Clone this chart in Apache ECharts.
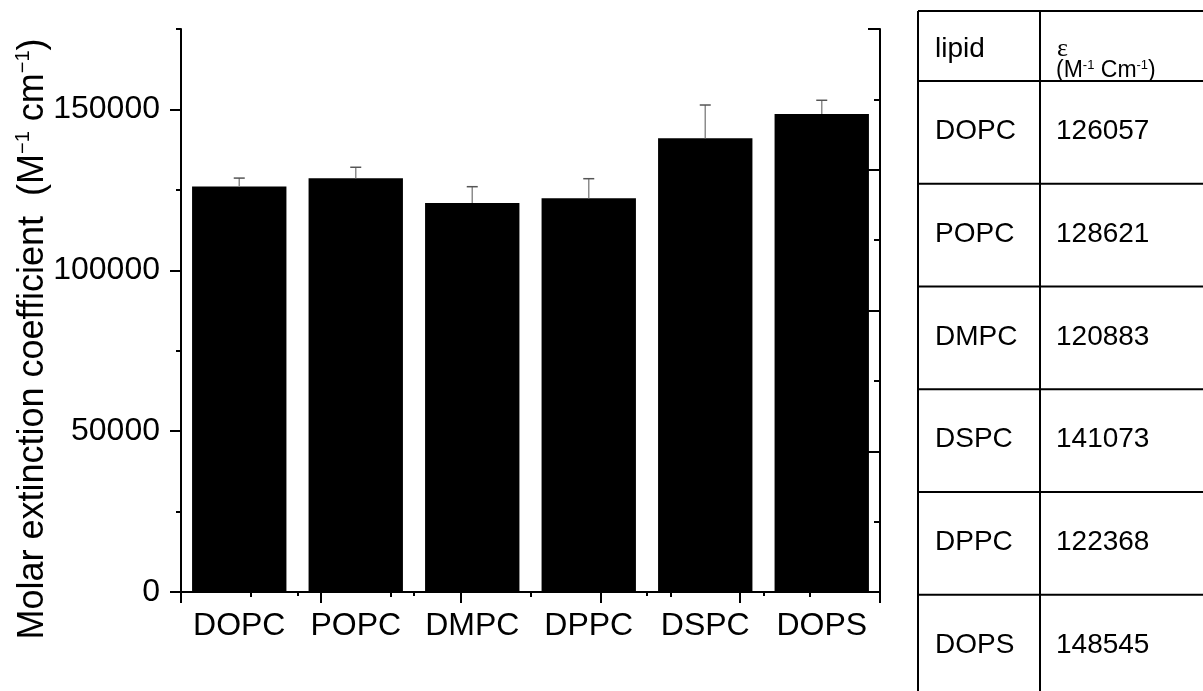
<!DOCTYPE html>
<html>
<head>
<meta charset="utf-8">
<script src="https://cdn.jsdelivr.net/npm/echarts@6/dist/echarts.min.js"></script>
<style>
  html, body { margin: 0; padding: 0; background: #fff; }
  #chart { width: 1203px; height: 691px; }
</style>
</head>
<body>
<div id="chart"></div>
<script>
// data
const lipids = ['DOPC', 'POPC', 'DMPC', 'DPPC', 'DSPC', 'DOPS']
const epsilon = [126057, 128621, 120883, 122368, 141073, 148545]
const epsilonErr = [2600, 3400, 5100, 6100, 10300, 4300]

// table on the right (its own row order)
const tableLipids = ['DOPC', 'POPC', 'DMPC', 'DSPC', 'DPPC', 'DOPS']
const tableValues = [126057, 128621, 120883, 141073, 122368, 148545]

const yMajorTicks = [0, 50000, 100000, 150000]
const yMinorTicks = [25000, 75000, 125000, 175000]

const FONT = '"Liberation Sans", Arial, sans-serif'

const chart = echarts.init(document.getElementById('chart'))

// table drawn with graphic elements
function buildTable() {
  const left = 918, mid = 1040, right = 1203
  const top = 11, headBottom = 81, rowH = 102.75
  const els = []
  const line = (x1, y1, x2, y2) => ({
    type: 'line',
    shape: { x1, y1, x2, y2 },
    style: { stroke: '#000', lineWidth: 2 }
  })
  els.push(line(left, top, left, 691))
  els.push(line(mid, top, mid, 691))
  els.push(line(left, top, right, top))
  els.push(line(left, headBottom, right, headBottom))
  tableLipids.forEach((name, i) => {
    const y0 = headBottom + i * rowH
    els.push(line(left, y0 + rowH, right, y0 + rowH))
    els.push({
      type: 'text', x: 935, y: y0 + rowH / 2 - 1,
      style: { text: name, fontSize: 28, fontFamily: FONT, fill: '#000', verticalAlign: 'middle' }
    })
    els.push({
      type: 'text', x: 1056, y: y0 + rowH / 2 - 1,
      style: { text: String(tableValues[i]), fontSize: 28, fontFamily: FONT, fill: '#000', verticalAlign: 'middle' }
    })
  })
  // header
  els.push({
    type: 'text', x: 935, y: 49,
    style: { text: 'lipid', fontSize: 28, fontFamily: FONT, fill: '#000', verticalAlign: 'middle' }
  })
  els.push({
    type: 'text', x: 1057, y: 49,
    style: { text: 'ε', fontSize: 26, fontFamily: '"Liberation Serif", serif', fill: '#000', verticalAlign: 'middle' }
  })
  els.push({
    type: 'text', x: 1056, y: 71,
    style: {
      text: '{a|(M}{s|-1}{a| Cm}{s|-1}{a|)}',
      verticalAlign: 'middle',
      rich: {
        a: { fontSize: 23, fontFamily: FONT, fill: '#000', lineHeight: 24 },
        s: { fontSize: 13, fontFamily: FONT, fill: '#000', verticalAlign: 'top', lineHeight: 13 }
      }
    }
  })
  return els
}

const yTitle = {
  type: 'text',
  x: 33, y: 339,
  rotation: Math.PI / 2,
  style: {
    text: '{a|Molar extinction coefficient  (M}{s|−1}{a| cm}{s|−1}{a|)}',
    align: 'center',
    verticalAlign: 'middle',
    rich: {
      a: { fontSize: 36, fontFamily: FONT, fill: '#000', lineHeight: 40 },
      s: { fontSize: 20, fontFamily: FONT, fill: '#000', verticalAlign: 'top', lineHeight: 20 }
    }
  }
}

const axisLine = { show: true, lineStyle: { color: '#000', width: 2 } }
const tickStyle = { color: '#000', width: 2 }

const option = {
  backgroundColor: '#fff',
  animation: false,
  grid: { left: 181, right: 323, top: 29, bottom: 99 },
  xAxis: [
    {
      type: 'category',
      data: lipids,
      position: 'bottom',
      axisLine,
      axisTick: { alignWithLabel: true, length: 9, lineStyle: tickStyle },
      axisLabel: { interval: 0, fontSize: 32, color: '#000', fontFamily: FONT, margin: 18 },
      splitLine: { show: false }
    },
    {
      // boundary ticks between categories
      type: 'value', min: 0, max: 6, interval: 1,
      position: 'bottom',
      axisLine: { show: false },
      axisTick: { show: true, length: 4, lineStyle: tickStyle },
      axisLabel: { show: false },
      splitLine: { show: false }
    },
    {
      // mirrored top frame
      type: 'value', min: 0, max: 10, interval: 2,
      position: 'top',
      axisLine,
      axisTick: { show: true, inside: true, length: 11, lineStyle: tickStyle },
      minorTick: { show: true, splitNumber: 2, length: 5, lineStyle: tickStyle },
      axisLabel: { show: false },
      splitLine: { show: false }
    }
  ],
  yAxis: [
    {
      type: 'value', min: 0, max: 175000,
      position: 'left',
      axisLine,
      axisTick: { show: true, length: 11, customValues: yMajorTicks, lineStyle: tickStyle },
      axisLabel: {
        customValues: yMajorTicks,
        formatter: v => String(v),
        fontSize: 32, color: '#000', fontFamily: FONT, margin: 21
      },
      splitLine: { show: false }
    },
    {
      type: 'value', min: 0, max: 175000,
      position: 'left',
      axisLine: { show: false },
      axisTick: { show: true, length: 5, customValues: yMinorTicks, lineStyle: tickStyle },
      axisLabel: { show: false },
      splitLine: { show: false }
    },
    {
      // mirrored right frame
      type: 'value', min: 0, max: 8, interval: 2,
      position: 'right',
      axisLine,
      axisTick: { show: true, inside: true, length: 12, lineStyle: tickStyle },
      minorTick: { show: true, splitNumber: 2, length: 6, lineStyle: tickStyle },
      axisLabel: { show: false },
      splitLine: { show: false }
    }
  ],
  series: [
    {
      type: 'bar',
      xAxisIndex: 0,
      yAxisIndex: 0,
      data: epsilon,
      barCategoryGap: '19%',
      itemStyle: { color: '#000' }
    },
    {
      type: 'custom',
      xAxisIndex: 0,
      yAxisIndex: 0,
      z: 3,
      data: lipids.map((name, i) => [i, epsilon[i], epsilonErr[i]]),
      encode: { x: 0, y: 1 },
      renderItem: (params, api) => {
        const i = api.value(0)
        const v = api.value(1)
        const e = api.value(2)
        const base = api.coord([i, v])
        const top = api.coord([i, v + e])
        const hw = 5.5
        return {
          type: 'group',
          children: [
            { type: 'line', shape: { x1: base[0], y1: base[1], x2: top[0], y2: top[1] }, style: { stroke: '#8c8c8c', lineWidth: 1.5 } },
            { type: 'line', shape: { x1: top[0] - hw, y1: top[1], x2: top[0] + hw, y2: top[1] }, style: { stroke: '#555', lineWidth: 1.5 } }
          ]
        }
      }
    }
  ],
  graphic: [yTitle].concat(buildTable())
}

chart.setOption(option)
</script>
</body>
</html>
